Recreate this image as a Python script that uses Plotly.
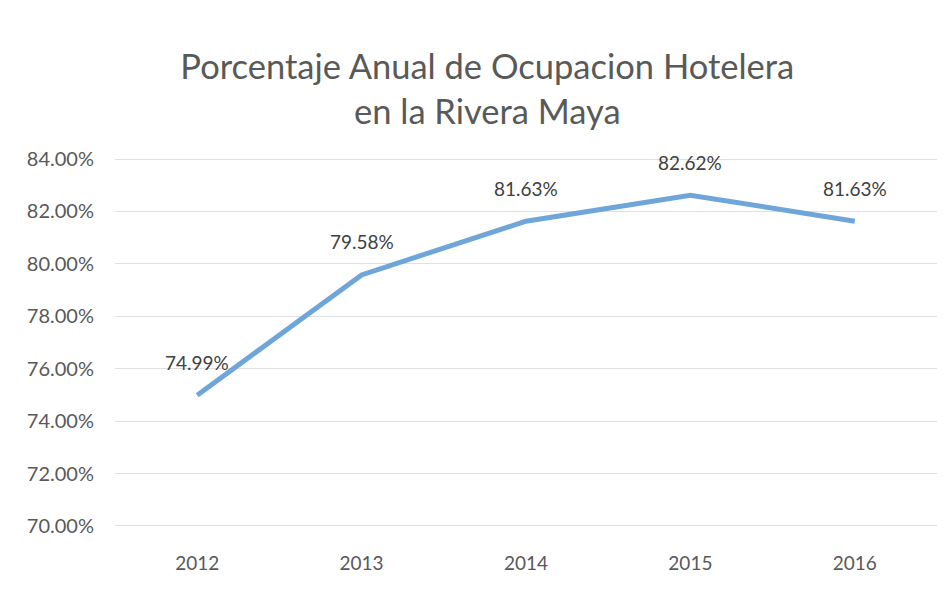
"""Annual hotel occupancy line chart (Rivera Maya)."""

import plotly.graph_objects as go

years = ["2012", "2013", "2014", "2015", "2016"]
occupancy = [74.99, 79.58, 81.63, 82.62, 81.63]
y_ticks = [70, 72, 74, 76, 78, 80, 82, 84]
y_tick_labels = [f"{v:.2f}%" for v in y_ticks]

FONT = "Lato, 'Open Sans', sans-serif"
GRAY = "#595959"

fig = go.Figure()
fig.add_trace(
    go.Scatter(
        x=years,
        y=occupancy,
        mode="lines",
        line=dict(color="#6fa6da", width=5),
        hoverinfo="skip",
        showlegend=False,
    )
)

# Data labels sit well above each point, like Excel's "above" placement.
# Category index is used for x: numeric-looking strings would be read as indices.
for i, val in enumerate(occupancy):
    fig.add_annotation(
        x=i,
        y=val,
        text=f"{val:.2f}%",
        showarrow=False,
        yshift=33,
        font=dict(family=FONT, size=19, color="#404040"),
    )

fig.update_layout(
    width=951,
    height=590,
    paper_bgcolor="white",
    plot_bgcolor="white",
    margin=dict(l=107, r=22, t=150, b=71),
    title=dict(
        text="Porcentaje Anual de Ocupacion Hotelera<br>en la Rivera Maya",
        x=0.504,
        xanchor="center",
        y=0.880,
        yanchor="middle",
        font=dict(family=FONT, size=34.5, color=GRAY),
    ),
    xaxis=dict(
        type="category",
        range=[-0.5, len(years) - 0.5],
        showgrid=False,
        showline=False,
        ticks="",
        automargin=False,
        ticklabelstandoff=23,
        tickfont=dict(family=FONT, size=19, color=GRAY),
    ),
    yaxis=dict(
        range=[69.96, 84.04],
        tickvals=y_ticks,
        ticktext=y_tick_labels,
        showgrid=True,
        gridcolor="#e0e0e0",
        gridwidth=1,
        zeroline=False,
        showline=False,
        ticks="",
        automargin=False,
        ticklabelstandoff=20,
        tickfont=dict(family=FONT, size=20, color=GRAY),
    ),
)

fig.write_html("out.html")
